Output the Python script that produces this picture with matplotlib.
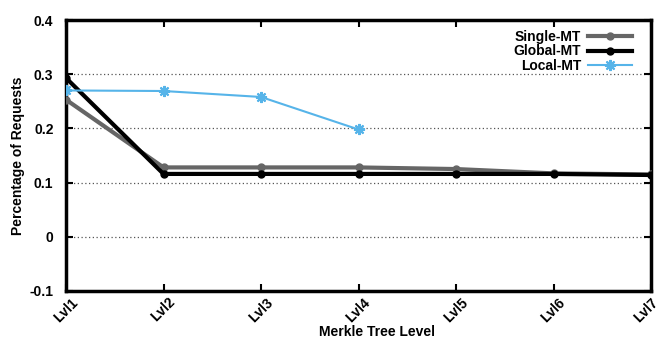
import matplotlib
matplotlib.use("Agg")
import matplotlib.pyplot as plt

plt.rcParams['font.family'] = ['Liberation Sans', 'DejaVu Sans']
plt.rcParams['font.weight'] = 'bold'

levels = ["Lvl1", "Lvl2", "Lvl3", "Lvl4", "Lvl5", "Lvl6", "Lvl7"]
single_mt = [0.253, 0.128, 0.128, 0.128, 0.125, 0.117, 0.115]
global_mt = [0.293, 0.116, 0.116, 0.116, 0.116, 0.116, 0.114]
local_mt = [0.270, 0.269, 0.258, 0.198]

fig = plt.figure(figsize=(6.62, 3.38), dpi=100)
ax = fig.add_axes([66 / 662, 1 - 291 / 338, (651 - 66) / 662, (291 - 20) / 338])

x = list(range(len(levels)))
ax.plot(x, single_mt, color='#666666', lw=3, marker='o', ms=5, label='Single-MT', zorder=3)
ax.plot(x, global_mt, color='black', lw=3, marker='o', ms=5, label='Global-MT', zorder=4)
ax.plot(x[:len(local_mt)], local_mt, color='#56b4e9', lw=1.5, marker=(8, 2, 0), ms=8, mew=1.5,
        label='Local-MT', zorder=5)

ax.set_xlim(0, len(levels) - 1)
ax.set_ylim(-0.1, 0.4)
ax.set_yticks([-0.1, 0, 0.1, 0.2, 0.3, 0.4])
ax.set_yticklabels(['-0.1', '0', '0.1', '0.2', '0.3', '0.4'])
ax.set_xticks(x)
ax.set_xticklabels([])
# rotated level labels; the last one sits at the figure edge so nudge it in
for i, lbl in enumerate(levels):
    dx = -3.5 if i == len(levels) - 1 else 0
    ax.annotate(lbl, xy=(i, 0), xycoords=('data', 'axes fraction'),
                xytext=(dx, -3), textcoords='offset points',
                rotation=45, ha='center', va='top', fontsize=10, fontweight='bold')

for yv in [0, 0.1, 0.2, 0.3]:
    ax.axhline(yv, color='#555555', lw=0.9, ls=(0, (1, 2)), zorder=1)

for s in ax.spines.values():
    s.set_linewidth(2.5)
ax.tick_params(direction='in', top=True, right=True, length=5, width=1.5,
               labelsize=10)
ax.tick_params(axis='y', pad=9)

ax.set_xlabel('Merkle Tree Level', fontsize=10, fontweight='bold', va='center')
ax.xaxis.set_label_coords((377 - 66) / 585, -41 / 271)
ax.set_ylabel('Percentage of Requests', fontsize=10, fontweight='bold', labelpad=3)

ax.legend(loc='upper right', bbox_to_anchor=(1 - 9 / 585, 1), frameon=False,
          markerfirst=False, fontsize=10, handlelength=3.2, labelspacing=0.05,
          borderaxespad=0.3, handletextpad=0.5)

fig.savefig('out.png', dpi=100)
